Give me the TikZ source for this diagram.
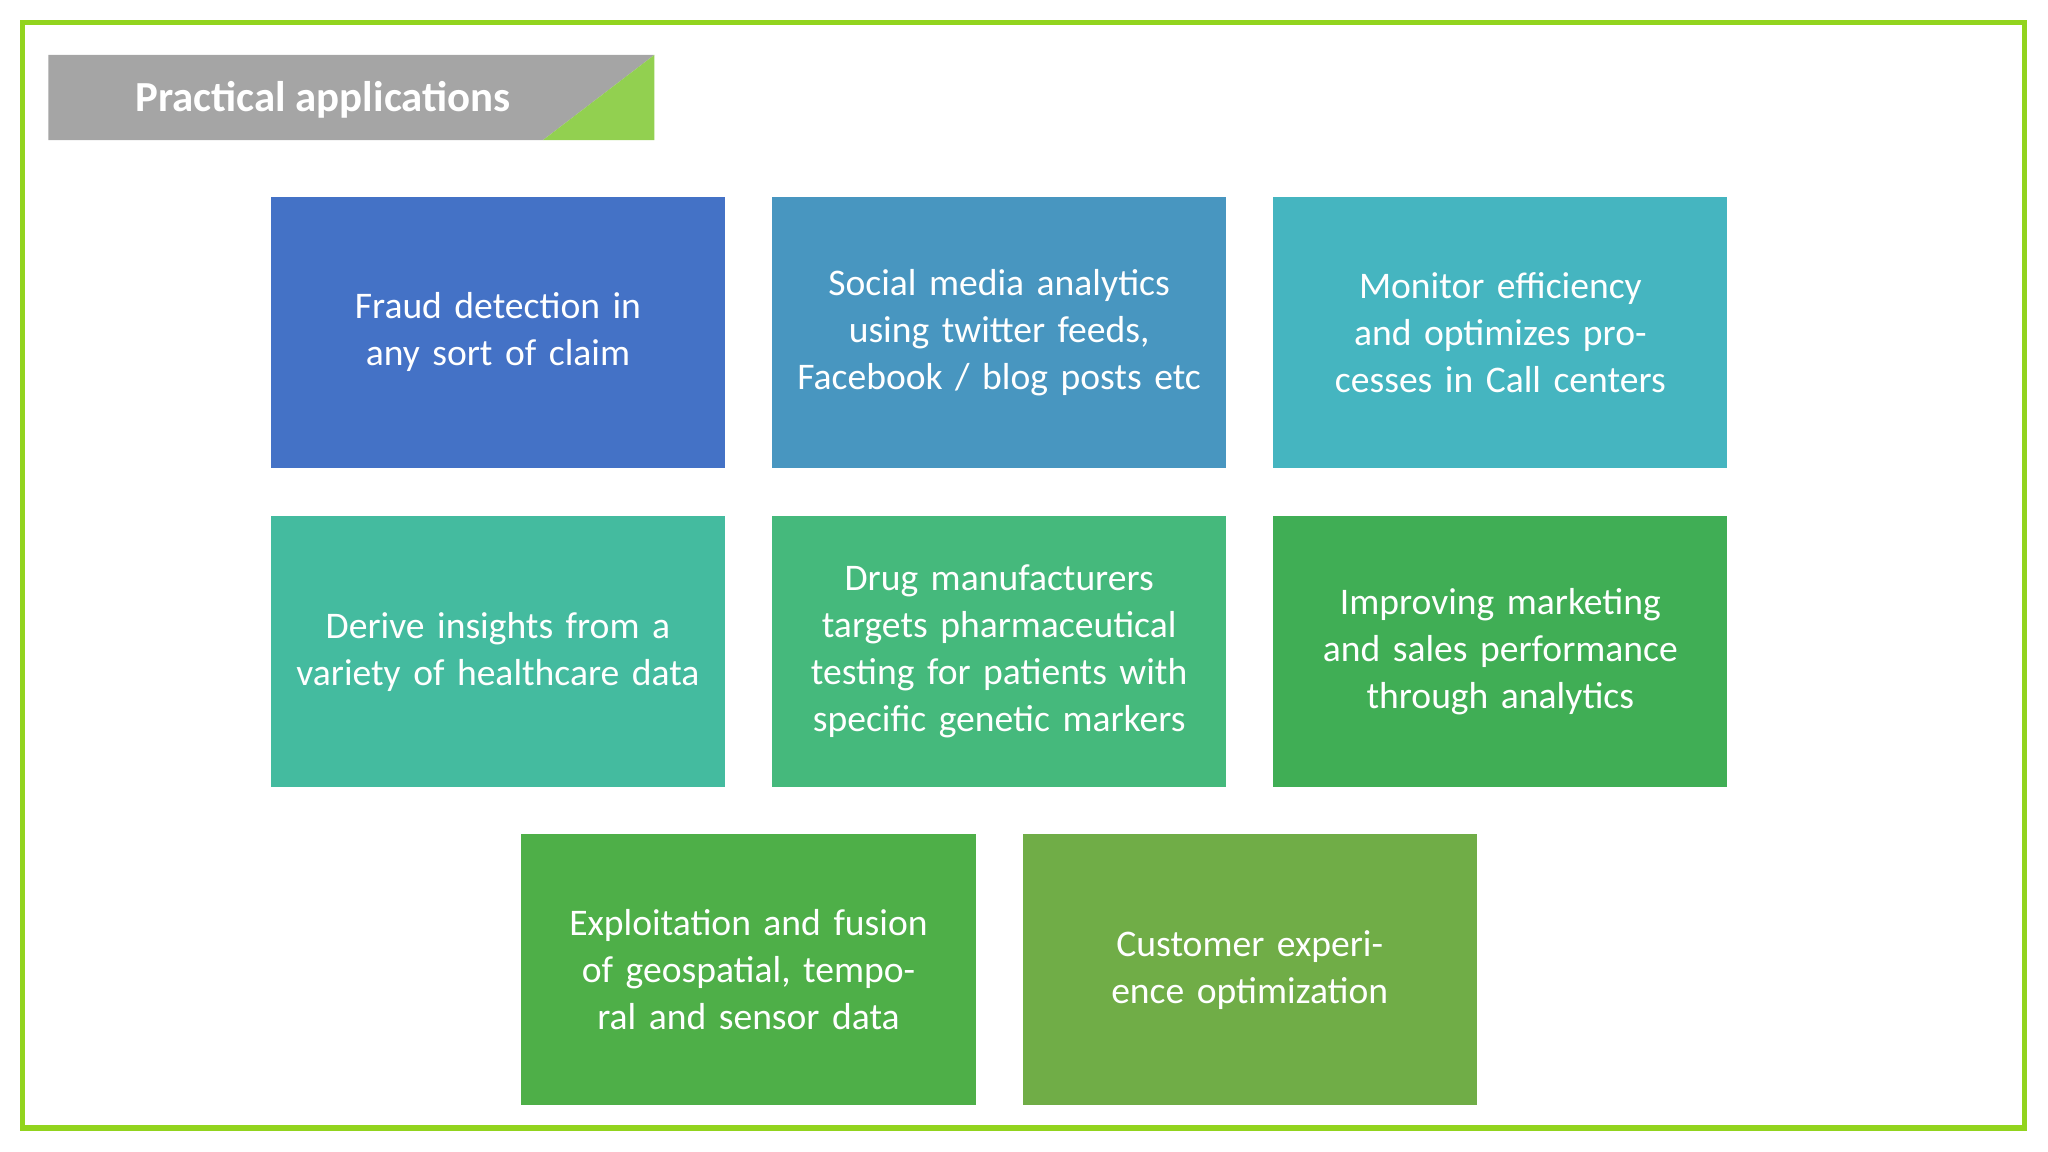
\documentclass[tikz,border=0pt]{standalone}
\usepackage{fontspec}
\setmainfont{Carlito}
\definecolor{cA}{HTML}{4472C6}
\definecolor{cB}{HTML}{4896C0}
\definecolor{cC}{HTML}{45B5C0}
\definecolor{cD}{HTML}{44BB9F}
\definecolor{cE}{HTML}{45B97C}
\definecolor{cF}{HTML}{40AE55}
\definecolor{cG}{HTML}{4EAF48}
\definecolor{cH}{HTML}{70AD47}
\definecolor{frame}{HTML}{92D41E}
\definecolor{titlegrey}{HTML}{A5A5A5}
\definecolor{titlegreen}{HTML}{92D050}
\tikzset{
  app/.style={minimum width=347*0.013087cm, minimum height=207*0.013087cm,
    text width=330*0.013087cm, align=center, text=white, inner sep=0pt,
    font=\fontsize{10.7pt}{13.4pt}\selectfont}
}
\begin{document}
\begin{tikzpicture}[x=0.013087cm, y=-0.013087cm]
            \useasboundingbox (0,0) rectangle (1565,880.3);
            \draw [frame, line width=1.5pt] (17,17) rectangle (1547,862);
            \fill [titlegrey] (37,42) -- (500,42) -- (415,107) -- (37,107) -- cycle;
            \fill [titlegreen] (500,42) -- (500,107) -- (415,107) -- cycle;
            \node [anchor=west, text=white, font=\fontsize{12.2pt}{14pt}\selectfont\bfseries] (title) at (94,76) {Practical applications};
            \node [app, fill=cA] (fraud) at (380.5,254) {Fraud detection in any sort of claim};
            \node [app, fill=cB] (social) at (763.5,254) {Social media analytics using twitter feeds, Facebook / blog posts etc};
            \node [app, fill=cC] (monitor) at (1146.5,254) {Monitor efficiency and optimizes processes in Call centers};
            \node [app, fill=cD] (derive) at (380.5,498) {Derive insights from a variety of healthcare data};
            \node [app, fill=cE] (drug) at (763.5,498) {Drug manufacturers targets pharmaceutical testing for patients with specific genetic markers};
            \node [app, fill=cF] (market) at (1146.5,498) {Improving marketing and sales performance through analytics};
            \node [app, fill=cG] (fusion) at (572,741) {Exploitation and fusion of geospatial, temporal and sensor data};
            \node [app, fill=cH] (customer) at (955,741) {Customer experience optimization};
        \end{tikzpicture}
\end{document}
